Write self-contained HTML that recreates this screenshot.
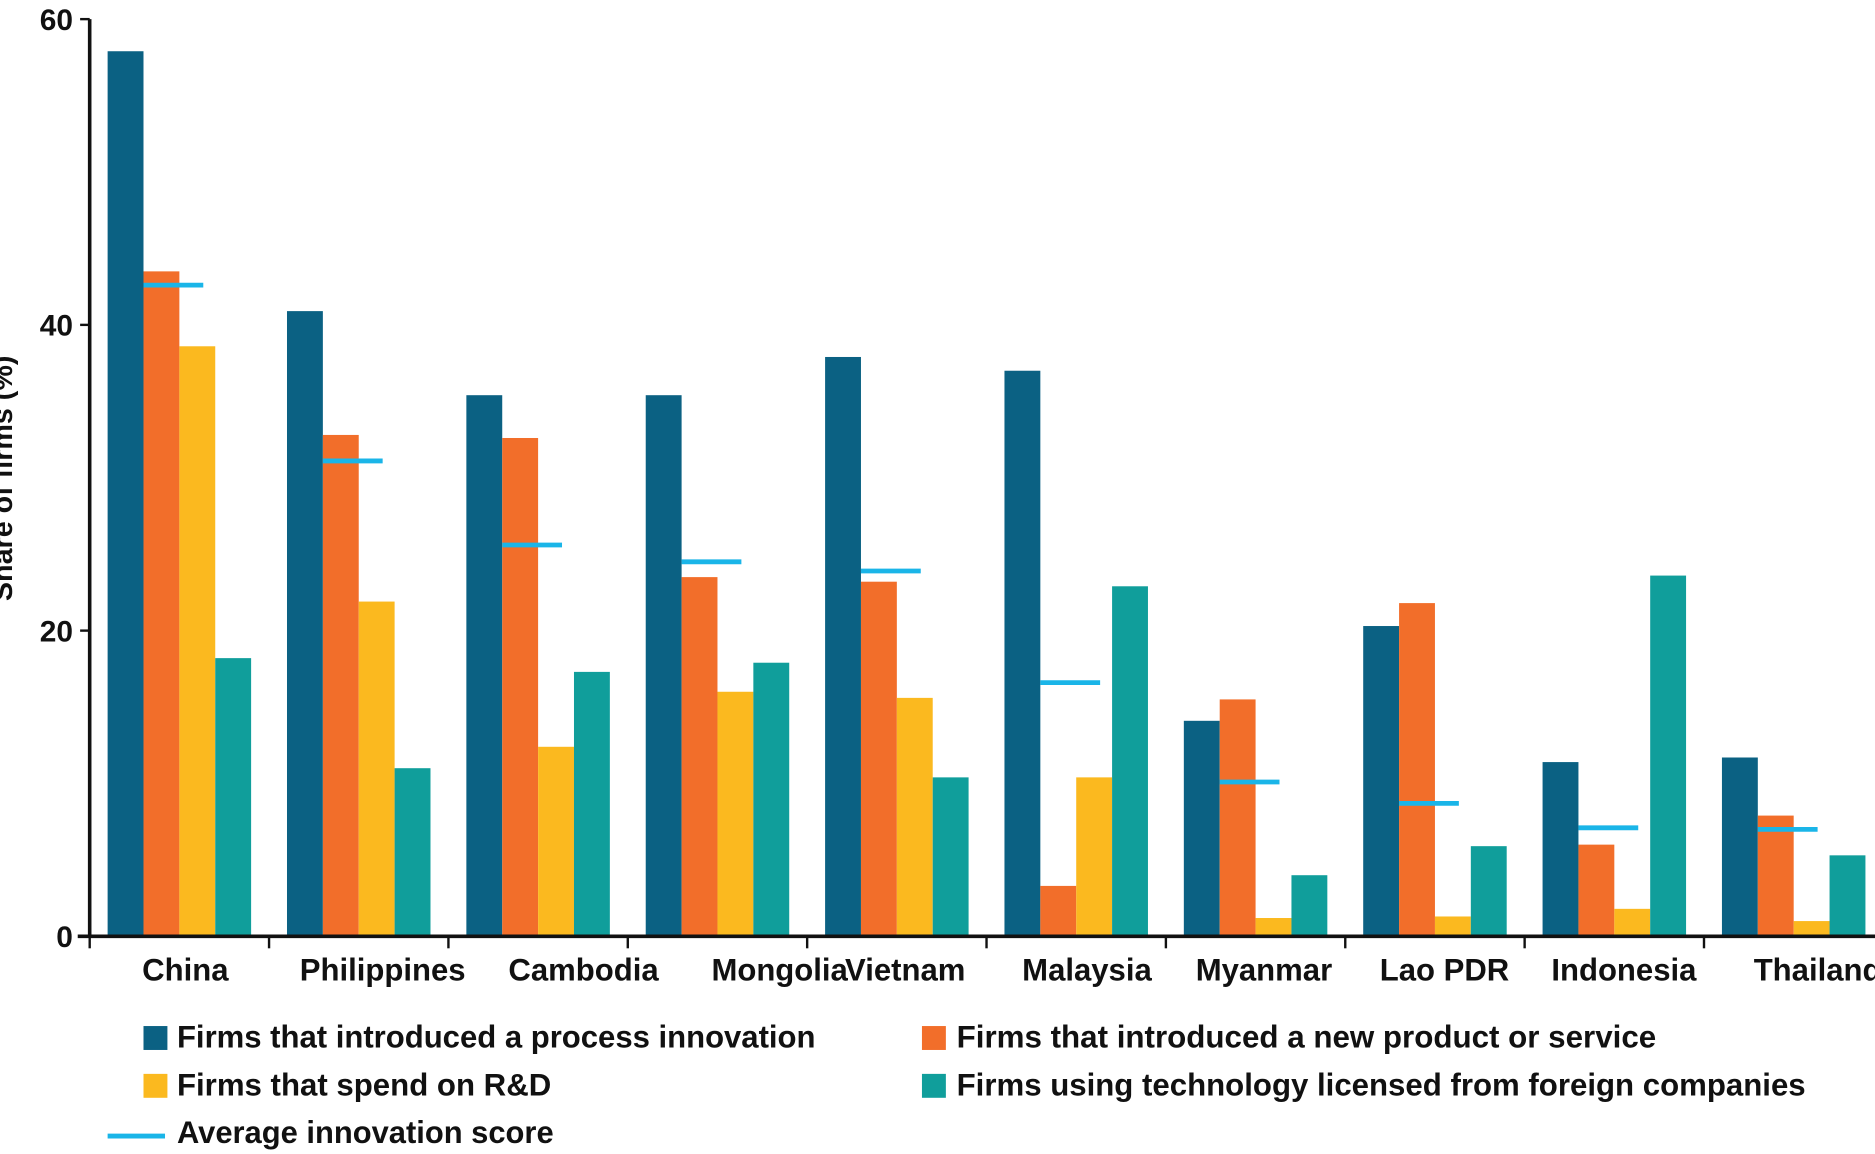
<!DOCTYPE html>
<html><head><meta charset="utf-8"><style>
html,body{margin:0;padding:0;background:#fff;overflow:hidden}
svg{display:block}
text{font-family:"Liberation Sans Narrow","Liberation Sans",sans-serif;fill:#111;font-weight:bold}
</style></head><body>
<svg id="chart" width="1875" height="1154" viewBox="0 0 1568 965" preserveAspectRatio="none" xmlns="http://www.w3.org/2000/svg">
<g id="bars"></g>
<g id="axes"></g>
<g id="legend">
 <rect x="120" y="858" width="20" height="20" fill="#0b6183"/>
 <text x="148" y="876" font-size="26" textLength="534" lengthAdjust="spacingAndGlyphs">Firms that introduced a process innovation</text>
 <rect x="771" y="858" width="20" height="20" fill="#f26e2a"/>
 <text x="800" y="876" font-size="26" textLength="585" lengthAdjust="spacingAndGlyphs">Firms that introduced a new product or service</text>
 <rect x="120" y="898" width="20" height="20" fill="#fbb91f"/>
 <text x="148" y="916" font-size="26" textLength="313" lengthAdjust="spacingAndGlyphs">Firms that spend on R&amp;D</text>
 <rect x="771" y="898" width="20" height="20" fill="#109e9b"/>
 <text x="800" y="916" font-size="26" textLength="710" lengthAdjust="spacingAndGlyphs">Firms using technology licensed from foreign companies</text>
 <line x1="90" y1="950" x2="138" y2="950" stroke="#1ab5e8" stroke-width="4"/>
 <text x="148" y="956" font-size="26" textLength="315" lengthAdjust="spacingAndGlyphs">Average innovation score</text>
</g>
</svg>
<script>
const categories = ["China","Philippines","Cambodia","Mongolia","Vietnam","Malaysia","Myanmar","Lao PDR","Indonesia","Thailand"];
const processInnovation = [57.9,40.9,35.4,35.4,37.9,37.0,14.1,20.3,11.4,11.7];
const newProduct = [43.5,32.8,32.6,23.5,23.2,3.3,15.5,21.8,6.0,7.9];
const rdSpend = [38.6,21.9,12.4,16.0,15.6,10.4,1.2,1.3,1.8,1.0];
const foreignTech = [18.2,11.0,17.3,17.9,10.4,22.9,4.0,5.9,23.6,5.3];
const averageScore = [42.6,31.1,25.6,24.5,23.9,16.6,10.1,8.7,7.1,7.0];
const yTicks = [0,20,40,60];

const NS="http://www.w3.org/2000/svg";
const x0=75, groupW=150, barW=30, y0=783, yTop=16, yMax=60;
const labelShift=[-2,13,31,45,0,2,0,1,1,13];
const yScale=v=>y0-(v/yMax)*(y0-yTop);
const xGroup=i=>x0+i*groupW;
function mk(tag,attrs,parent){const e=document.createElementNS(NS,tag);for(const k in attrs)e.setAttribute(k,attrs[k]);parent.appendChild(e);return e;}
const bars=document.getElementById('bars'), axes=document.getElementById('axes');
const series=[[processInnovation,"#0b6183","process"],[newProduct,"#f26e2a","product"],[rdSpend,"#fbb91f","rd"],[foreignTech,"#109e9b","licensed"]];
categories.forEach((c,i)=>{
  series.forEach(([arr,col,nm],s)=>{
    const x=xGroup(i)+15+s*barW, y=yScale(arr[i]);
    const r=mk('rect',{x:x,y:y,width:barW,height:y0-y,fill:col},bars);
    
    
  });
  const ya=yScale(averageScore[i]);
  const l=mk('line',{x1:xGroup(i)+45,x2:xGroup(i)+95,y1:ya,y2:ya,stroke:"#1ab5e8","stroke-width":4},bars);
  
  
  const t=mk('text',{x:xGroup(i)+82+(labelShift[i]||0),y:820,"font-size":26,"text-anchor":"middle"},axes);
  t.textContent=c;
  
  
  const tk=mk('line',{x1:xGroup(i),x2:xGroup(i),y1:y0,y2:y0+10,stroke:"#111","stroke-width":2},axes);
  
  
});
const ax=mk('line',{x1:x0,x2:x0,y1:yTop,y2:y0+1,stroke:"#111","stroke-width":3},axes);


const bx=mk('line',{x1:x0-10,x2:1568,y1:y0,y2:y0,stroke:"#111","stroke-width":3},axes);


yTicks.forEach(v=>{
  const y=yScale(v);
  const tl=mk('line',{x1:x0-8,x2:x0,y1:y,y2:y,stroke:"#111","stroke-width":2},axes);
  
  
  const tt=mk('text',{x:x0-14,y:y+9,"font-size":25,"text-anchor":"end"},axes);
  tt.textContent=v;
  
  
});
const yt=mk('text',{x:0,y:0,"font-size":24,"text-anchor":"middle",transform:"translate(10,400) rotate(-90)"},axes);
yt.textContent="Share of firms (%)";


</script>
</body></html>
